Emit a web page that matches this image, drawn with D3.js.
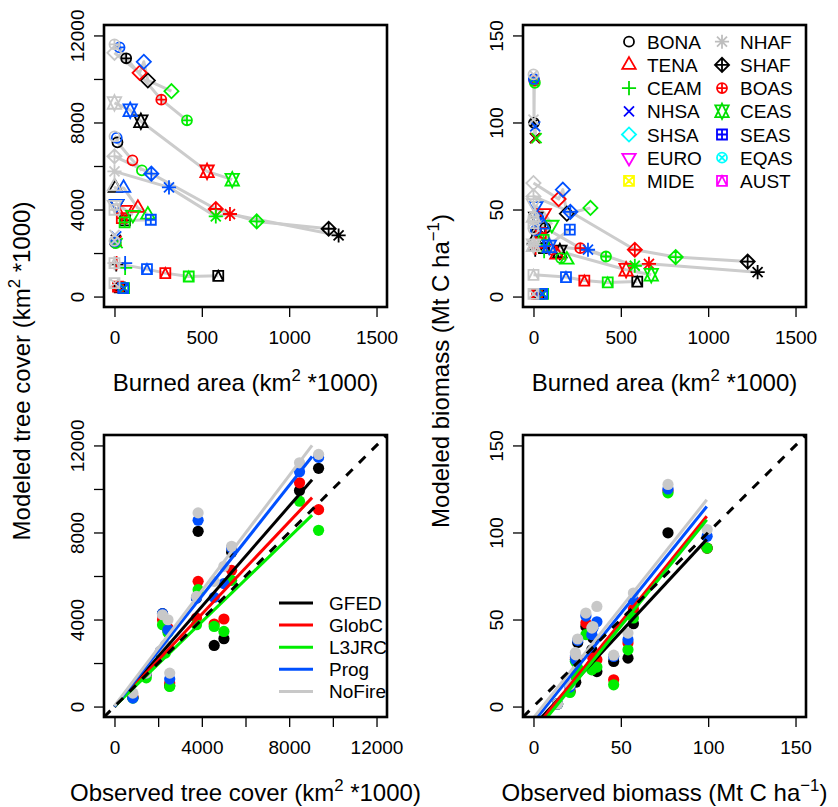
<!DOCTYPE html>
<html>
<head>
<meta charset="utf-8">
<script src="https://cdn.jsdelivr.net/npm/d3@7"></script>
<style>
  body { margin: 0; background: #fff; }
  svg { display: block; }
  text { font-family: "Liberation Sans", Arial, Helvetica, sans-serif; fill: #000; }
</style>
</head>
<body>
<svg id="fig" width="838" height="807"></svg>
<script>
// ---- data ----
const regions = ["BONA", "TENA", "CEAM", "NHSA", "SHSA", "EURO", "MIDE",
                 "NHAF", "SHAF", "BOAS", "CEAS", "SEAS", "EQAS", "AUST"];
const datasets = ["GFED", "GlobC", "L3JRC", "Prog", "NoFire"];

// burned area (km2 *1000) per region: GFED, GlobC, L3JRC, Prog, NoFire
const burnedArea = [
  [17, 103, 157, 13, 0],
  [5, 134, 191, 52, 0],
  [10, 12, 61, 61, 0],
  [8, 12, 18, 10, 0],
  [191, 144, 326, 168, 0],
  [13, 61, 105, 13, 0],
  [30, 20, 55, 50, 0],
  [1283, 661, 580, 312, 0],
  [1226, 580, 814, 211, 0],
  [67, 268, 415, 29, 0],
  [151, 530, 674, 90, 0],
  [60, 42, 58, 208, 0],
  [3, 5, 8, 2, 0],
  [594, 291, 425, 186, 0],
];

// modeled tree cover (km2 *1000)
const modeledTree = [
  [7090, 6260, 5800, 7290, 7365],
  [4990, 4069, 3760, 4990, 5063],
  [1480, 1537, 1321, 1537, 1537],
  [2600, 2550, 2458, 2762, 2830],
  [9930, 10283, 9437, 10790, 11203],
  [4267, 3990, 3760, 4267, 4220],
  [420, 460, 387, 387, 617],
  [2808, 3793, 3683, 5017, 5754],
  [3116, 4023, 3452, 5648, 6445],
  [10950, 9050, 8100, 11450, 11590],
  [8055, 5754, 5371, 8563, 8900],
  [3500, 3608, 3406, 3530, 3990],
  [2480, 2500, 2460, 2532, 2560],
  [953, 1077, 921, 1261, 1537],
];

// modeled biomass (Mt C / ha)
const modeledBiomass = [
  [36.8, 27, 22.1, 38, 38.8],
  [32.6, 24, 21.1, 41.3, 45.1],
  [27, 28, 26, 29, 31],
  [91, 91, 91, 97.8, 101.7],
  [47.6, 56, 50.9, 61.4, 65.2],
  [46, 48, 41.3, 52, 53.7],
  [1.5, 1.5, 1.5, 1.5, 1.5],
  [14, 18.8, 17.7, 26.9, 29.7],
  [20.1, 26.9, 22.7, 48.7, 57.5],
  [39.4, 27.8, 23, 45, 46],
  [25.9, 15.4, 12.5, 28.8, 29.5],
  [27.8, 36.5, 32.6, 38.4, 42.2],
  [99.8, 124, 122.8, 125, 127.6],
  [8.6, 9.2, 8.1, 11.2, 12.5],
];

const observedTree = [5364, 3756, 1456, 2330, 8474, 2200, 843, 4566, 5011, 9347, 3830, 2450, 2100, 2529];
const observedBiomass = [25.3, 33.4, 24, 99.4, 57.2, 30, 13.8, 24.2, 36.3, 34, 45.9, 54.1, 77, 20.9];

// regression lines (modeled ~ observed), per dataset
const treeFitSlope = [1.154, 1.061, 0.971, 1.27, 1.323];
const treeFitIntercept = [-20, 0, 10, 0, 30];
const treeFitRange = [0, 9050];
const bioFitSlope = [1.081, 1.238, 1.242, 1.248, 1.263];
const bioFitIntercept = [-11.2, -13.5, -15.9, -8.9, -6.5];
const bioFitRange = [0, 99.2];

const burnedTicks = [0, 500, 1000, 1500];
const treeTicks = [0, 2000, 4000, 6000, 8000, 10000, 12000];
const treeTickLabels = [0, 4000, 8000, 12000];
const bioTicks = [0, 50, 100, 150];

// ---- styles ----
const datasetColors = ["#000000", "#ff0000", "#00ee00", "#0050ff", "#c8c8c8"];
const paletteR = ["#000000", "#ff0000", "#00dd00", "#0000ff", "#00ffff", "#ff00ff", "#ffff00", "#bebebe"];
const regionColor = (i) => paletteR[i % 8];

const svg = d3.select("#fig");
const pw = 283, ph = 282;
const fontTick = 19, fontLab = 24;

function padded(lo, hi) {
  const d = (hi - lo) * 0.04;
  return [lo - d, hi + d];
}

// R-style plotting symbols, pch 1..14
function pchPath(pch, R) {
  const s2 = Math.SQRT2 * R;
  const t0 = 1.5551 * R, t1 = 1.3468 * R, t2 = 0.7776 * R;
  const circle = (r) => `M${r},0A${r},${r} 0 1,1 ${-r},0A${r},${r} 0 1,1 ${r},0Z`;
  const plus = (a) => `M${-a},0H${a}M0,${-a}V${a}`;
  const cross = (a) => `M${-a},${-a}L${a},${a}M${-a},${a}L${a},${-a}`;
  const up = `M0,${-t0}L${t1},${t2}L${-t1},${t2}Z`;
  const down = `M0,${t0}L${t1},${-t2}L${-t1},${-t2}Z`;
  const diamond = `M${-s2},0L0,${s2}L${s2},0L0,${-s2}Z`;
  const square = `M${-R},${-R}H${R}V${R}H${-R}Z`;
  switch (pch) {
    case 1: return circle(R);
    case 2: return up;
    case 3: return plus(s2);
    case 4: return cross(R);
    case 5: return diamond;
    case 6: return down;
    case 7: return square + cross(R);
    case 8: return plus(s2) + cross(R);
    case 9: return diamond + plus(s2);
    case 10: return circle(R) + plus(R);
    case 11: {
      const r = t0, yc = 0.5 * (t2 + t0), xc = t1;
      return `M0,${r}L${xc},${-yc}L${-xc},${-yc}ZM0,${-r}L${xc},${yc}L${-xc},${yc}Z`;
    }
    case 12: return square + plus(R);
    case 13: return circle(R) + cross(R * 0.72);
    case 14: return square + `M${-R},${R}L0,${-R}L${R},${R}`;
  }
  return "";
}

// label with a superscript part
function richText(sel, parts, size) {
  parts.forEach((p) => {
    if (p.sup) {
      sel.append("tspan").attr("font-size", size * 0.7).attr("dy", -size * 0.42).text(p.sup);
    } else {
      sel.append("tspan").attr("font-size", size).attr("dy", p.after ? size * 0.42 : 0).text(p.t);
    }
  });
}

const treeLabel = [{ t: "(km" }, { sup: "2" }, { t: " *1000)", after: true }];
const bioLabel = [{ t: "(Mt C ha" }, { sup: "\u22121" }, { t: ")", after: true }];

function makePanel(id, left, top, xDom, yDom) {
  const g = svg.append("g").attr("transform", `translate(${left},${top})`);
  const x = d3.scaleLinear().domain(padded(...xDom)).range([0, pw]);
  const y = d3.scaleLinear().domain(padded(...yDom)).range([ph, 0]);
  g.append("clipPath").attr("id", id).append("rect").attr("width", pw).attr("height", ph);
  const plot = g.append("g").attr("clip-path", `url(#${id})`);
  return { g, plot, x, y };
}

function drawFrame(p, xTicks, xLabels, yTicks, yLabels) {
  const xa = p.g.append("g").attr("transform", `translate(0,${ph})`)
    .call(d3.axisBottom(p.x).tickValues(xTicks).tickSize(10).tickSizeOuter(0).tickPadding(14)
      .tickFormat((d) => (xLabels.includes(d) ? d : "")));
  const ya = p.g.append("g")
    .call(d3.axisLeft(p.y).tickValues(yTicks).tickSize(10).tickSizeOuter(0)
      .tickFormat((d) => (yLabels.includes(d) ? d : "")));
  [xa, ya].forEach((a) => {
    a.select(".domain").remove();
    a.selectAll(".tick line").attr("stroke", "#000").attr("stroke-width", 1.3);
    a.selectAll("text").attr("font-size", fontTick).attr("fill", "#000")
      .attr("font-family", '"Liberation Sans", Arial, sans-serif');
  });
  ya.selectAll("text")
    .attr("x", null).attr("dy", null)
    .attr("text-anchor", "middle")
    .attr("transform", "translate(-20,0) rotate(-90)");
  p.g.append("rect").attr("width", pw).attr("height", ph)
    .attr("fill", "none").attr("stroke", "#000").attr("stroke-width", 2.6);
}

function xTitle(p, words, parts) {
  const t = p.g.append("text").attr("x", pw / 2).attr("y", ph + 84).attr("text-anchor", "middle");
  t.append("tspan").attr("font-size", fontLab).text(words + " ");
  richText(t, parts, fontLab);
}

function yTitle(xPos, yPos, words, parts) {
  const t = svg.append("text").attr("text-anchor", "middle")
    .attr("transform", `translate(${xPos},${yPos}) rotate(-90)`);
  t.append("tspan").attr("font-size", fontLab).text(words + " ");
  richText(t, parts, fontLab);
}

// ---- top panels: burned area vs modeled ----
function topPanel(id, left, values, yDom, yTicks, yLabels) {
  const p = makePanel(id, left, 25, [0, 1500], yDom);
  const line = d3.line().x((d) => p.x(d[0])).y((d) => p.y(d[1]));
  regions.forEach((r, i) => {
    const pts = datasets.map((ds, j) => [burnedArea[i][j], values[i][j]])
      .sort((a, b) => a[0] - b[0]);
    p.plot.append("path").attr("d", line(pts))
      .attr("fill", "none").attr("stroke", "#cccccc").attr("stroke-width", 3)
      .attr("stroke-linejoin", "round");
  });
  datasets.forEach((ds, j) => {
    p.plot.append("g").selectAll("path")
      .data(regions)
      .join("path")
      .attr("transform", (r, i) => `translate(${p.x(burnedArea[i][j])},${p.y(values[i][j])})`)
      .attr("d", (r, i) => pchPath(i + 1, 5))
      .attr("fill", "none")
      .attr("stroke", datasetColors[j])
      .attr("stroke-width", 1.8);
  });
  drawFrame(p, burnedTicks, burnedTicks, yTicks, yLabels);
  xTitle(p, "Burned area", treeLabel);
  return p;
}

const tl = topPanel("clipTL", 104, modeledTree, [0, 12000], treeTicks, treeTickLabels);
const tr = topPanel("clipTR", 523, modeledBiomass, [0, 150], bioTicks, bioTicks);

// region legend (two columns)
const leg = svg.append("g");
regions.forEach((r, i) => {
  const col = Math.floor(i / 7), row = i % 7;
  const lx = 629 + col * 93, ly = 41.7 + row * 23.2;
  leg.append("path").attr("transform", `translate(${lx},${ly})`)
    .attr("d", pchPath(i + 1, 5)).attr("fill", "none")
    .attr("stroke", regionColor(i)).attr("stroke-width", 1.8);
  leg.append("text").attr("x", lx + 18).attr("y", ly + 7).attr("font-size", 19).text(r);
});

// ---- bottom panels: observed vs modeled ----
function bottomPanel(id, left, obs, values, dom, ticks, labels, slope, icpt, range) {
  const p = makePanel(id, left, 435, dom, dom);
  datasets.forEach((ds, j) => {
    p.plot.append("g").selectAll("circle")
      .data(regions)
      .join("circle")
      .attr("cx", (r, i) => p.x(obs[i]))
      .attr("cy", (r, i) => p.y(values[i][j]))
      .attr("r", 5.6)
      .attr("fill", datasetColors[j]);
  });
  datasets.forEach((ds, j) => {
    p.plot.append("line")
      .attr("x1", p.x(range[0])).attr("y1", p.y(icpt[j] + slope[j] * range[0]))
      .attr("x2", p.x(range[1])).attr("y2", p.y(icpt[j] + slope[j] * range[1]))
      .attr("stroke", datasetColors[j]).attr("stroke-width", 3);
  });
  const [d0, d1] = p.x.domain();
  p.plot.append("line")
    .attr("x1", p.x(d0)).attr("y1", p.y(d0)).attr("x2", p.x(d1)).attr("y2", p.y(d1))
    .attr("stroke", "#000").attr("stroke-width", 3).attr("stroke-dasharray", "9,9");
  drawFrame(p, ticks, labels, ticks, labels);
  return p;
}

const bl = bottomPanel("clipBL", 104, observedTree, modeledTree, [0, 12000],
  treeTicks, treeTickLabels, treeFitSlope, treeFitIntercept, treeFitRange);
const br = bottomPanel("clipBR", 523, observedBiomass, modeledBiomass, [0, 150],
  bioTicks, bioTicks, bioFitSlope, bioFitIntercept, bioFitRange);

xTitle(bl, "Observed tree cover", treeLabel);
xTitle(br, "Observed biomass", bioLabel);

// dataset legend
const leg2 = bl.g.append("g");
datasets.forEach((ds, j) => {
  const ly = 168 + j * 22.1;
  leg2.append("line").attr("x1", 175).attr("x2", 209).attr("y1", ly).attr("y2", ly)
    .attr("stroke", datasetColors[j]).attr("stroke-width", 3);
  leg2.append("text").attr("x", 225).attr("y", ly + 7).attr("font-size", 19).text(ds);
});

// column y titles
yTitle(30, 371, "Modeled tree cover", treeLabel);
yTitle(449, 371, "Modeled biomass", bioLabel);
</script>
</body>
</html>
